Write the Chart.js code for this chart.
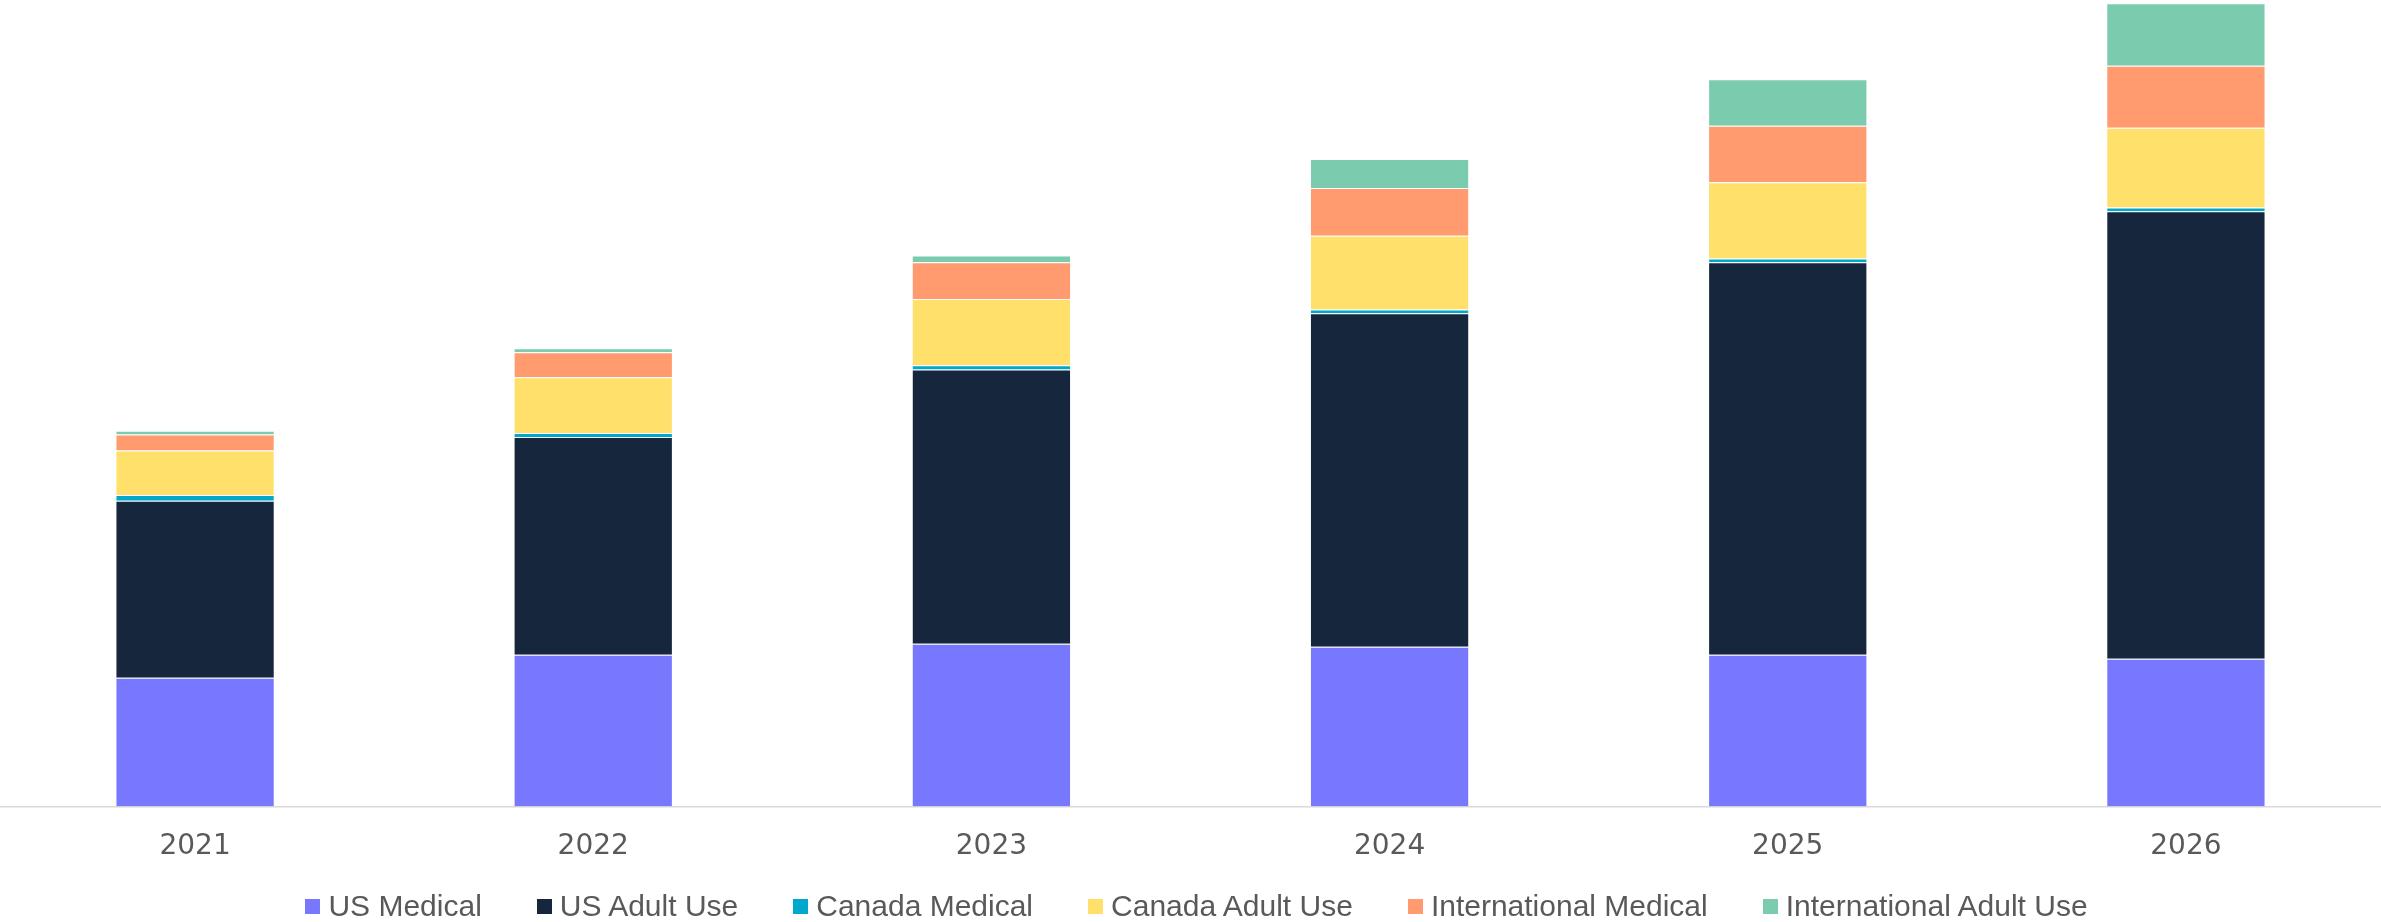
<!DOCTYPE html>
<html>
<head>
<meta charset="utf-8">
<script src="https://cdn.jsdelivr.net/npm/chart.js@4/dist/chart.umd.min.js"></script>
<style>
  html, body { margin: 0; padding: 0; background: #fff; overflow: hidden; }
  #wrap { position: absolute; left: -4px; top: 0; width: 2389px; height: 922px; }
  #leyenda {
    position: absolute; left: 0; top: 891px; width: 2381px; height: 30px;
    display: flex; justify-content: center; padding-left: 12px; box-sizing: border-box;
    font: 30px 'Liberation Sans', Arial, sans-serif; color: #595959; line-height: 30px;
  }
  #leyenda .item { display: flex; align-items: center; margin-right: 55px; white-space: nowrap; }
  #leyenda .item:last-child { margin-right: 0; }
  #leyenda .caja { width: 15px; height: 15px; margin-right: 8px; }
</style>
</head>
<body>
<div id="wrap"><canvas id="grafica"></canvas></div>
<div id="leyenda"></div>
<script>
// Valores (miles de millones USD, aprox.)
const years          = ['2021', '2022', '2023', '2024', '2025', '2026'];
const usMedical      = [8.06, 9.50, 10.19, 10.00, 9.50, 9.25];
const usAdultUse     = [11.08, 13.63, 17.17, 20.89, 24.58, 28.02];
const canadaMedical  = [0.36, 0.25, 0.27, 0.23, 0.23, 0.23];
const canadaAdultUse = [2.79, 3.50, 4.14, 4.61, 4.77, 5.00];
const intlMedical    = [1.00, 1.56, 2.31, 3.00, 3.54, 3.88];
const intlAdultUse   = [0.23, 0.25, 0.42, 1.81, 2.92, 3.92];

const series = [
  { label: 'US Medical',              data: usMedical,      color: '#7878ff' },
  { label: 'US Adult Use',            data: usAdultUse,     color: '#16263c' },
  { label: 'Canada Medical',          data: canadaMedical,  color: '#00a8cc' },
  { label: 'Canada Adult Use',        data: canadaAdultUse, color: '#ffe06a' },
  { label: 'International Medical',   data: intlMedical,    color: '#ff9b6e' },
  { label: 'International Adult Use', data: intlAdultUse,   color: '#7bcbae' },
];

// Leyenda en HTML para controlar el espaciado
const leyenda = document.getElementById('leyenda');
for (const s of series) {
  const it = document.createElement('div');
  it.className = 'item';
  it.innerHTML = `<span class="caja" style="background:${s.color}"></span><span>${s.label}</span>`;
  leyenda.appendChild(it);
}

new Chart(document.getElementById('grafica'), {
  type: 'bar',
  data: {
    labels: years,
    datasets: series.map(s => ({
      label:           s.label,
      data:            s.data,
      backgroundColor: s.color,
      borderColor:     'rgba(255,255,255,0.55)',
      borderWidth:     1,
      barPercentage:   0.4,
      categoryPercentage: 1,
    })),
  },
  options: {
    responsive: true,
    maintainAspectRatio: false,
    animation: false,
    layout: { padding: { top: 0, left: 0, right: 0, bottom: 42 } },
    plugins: {
      tooltip: { enabled: false },
      legend:  { display: false },
    },
    scales: {
      x: {
        stacked: true,
        grid: { display: false },
        border: { color: '#d9d9d9', width: 1.5 },
        ticks: { color: '#595959', padding: 16, font: { family: 'DejaVu Sans', size: 28 } },
      },
      y: {
        stacked: true,
        display: false,
        min: 0,
        max: 50.5,
      },
    },
  },
});
</script>
</body>
</html>
